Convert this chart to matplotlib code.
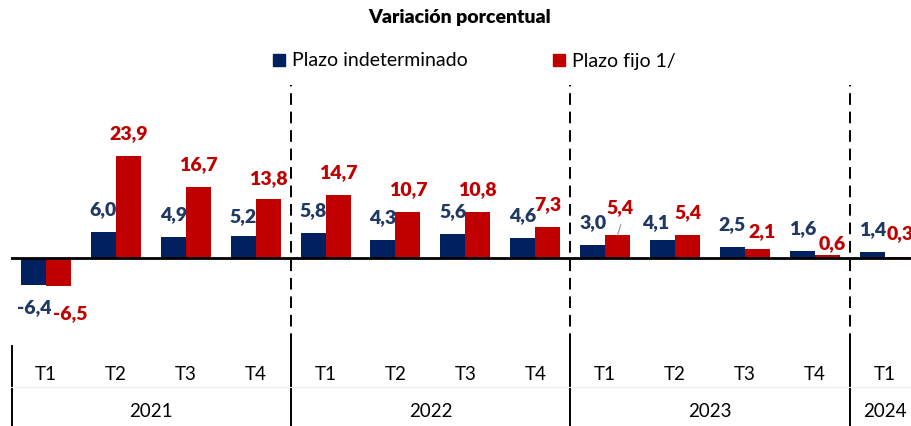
import matplotlib
matplotlib.use("Agg")
import matplotlib.pyplot as plt
from matplotlib.lines import Line2D
import numpy as np

# ---- data ----
quarters = ["T1", "T2", "T3", "T4", "T1", "T2", "T3", "T4", "T1", "T2", "T3", "T4", "T1"]
years = ["2021", "2022", "2023", "2024"]
year_sizes = [4, 4, 4, 1]
indeterminado = [-6.4, 6.0, 4.9, 5.2, 5.8, 4.3, 5.6, 4.6, 3.0, 4.1, 2.5, 1.6, 1.4]
fijo = [-6.5, 23.9, 16.7, 13.8, 14.7, 10.7, 10.8, 7.3, 5.4, 5.4, 2.1, 0.6, 0.3]
series_names = ["Plazo indeterminado", "Plazo fijo 1/"]

# ---- style ----
BLUE = "#002060"
RED = "#C00000"
BLUE_TXT = "#203864"
FONT = "Lato"
plt.rcParams["font.family"] = [FONT, "DejaVu Sans"]

W, H = 912, 426
fig = plt.figure(figsize=(W / 100, H / 100), dpi=100)

ax_left, ax_top, ax_bot = 11, 85, 345
ax = fig.add_axes([ax_left / W, (H - ax_bot) / H, (W - ax_left) / W, (ax_bot - ax_top) / H])
axc = fig.add_axes([ax_left / W, 0, (W - ax_left) / W, (H - ax_bot) / H], sharex=ax)

n = len(quarters)
x = np.arange(n)
bw = 0.357
ax.bar(x - bw / 2, indeterminado, bw, color=BLUE, zorder=2)
ax.bar(x + bw / 2, fijo, bw, color=RED, zorder=2)

group_px = 69.9
ax.set_xlim(-0.5, -0.5 + (W - ax_left) / group_px)
ppu = 4.27  # pixels per unit
zero_px = 258
ax.set_ylim(-(ax_bot - zero_px) / ppu, (zero_px - ax_top) / ppu)
ax.axis("off")
axc.axis("off")
axc.set_ylim(0, 1)

ax.axhline(0, color="black", lw=2.0, zorder=3)

bounds = np.cumsum(year_sizes)[:-1] - 0.5
for b in bounds:
    ax.axvline(b, color="black", lw=1.4, ls=(0, (6, 3.5)), zorder=1)

off_px = 22.5
nudges = {  # (series, index): (dx_px, dy_px) adjustments
    (0, 0): (1, -4.5),
    (1, 0): (11.5, 0.5),
    (0, 3): (0, -3.5),
    (1, 3): (0, -2),
    (0, 9): (-6.5, -5),
    (1, 8): (2.5, 4.5),
    (1, 10): (4.5, -5.5),
    (1, 11): (4.5, -10.5),
    (1, 12): (2.5, 1),
}
for s, (vals, col) in enumerate([(indeterminado, BLUE_TXT), (fijo, RED)]):
    for i, v in enumerate(vals):
        dx, dy = nudges.get((s, i), (0, 0))
        xpos = i + (s - 0.5) * bw
        sign = 1 if v >= 0 else -1
        oy = sign * (off_px + dy if sign > 0 else off_px + 4.5 + dy)
        ax.annotate(f"{v:.1f}".replace(".", ","), (xpos, v), xytext=(dx * 0.72, oy * 0.72),
                    textcoords="offset points", ha="center", va="center",
                    fontsize=14, fontweight="heavy", color=col, zorder=4)

ax.annotate("", xy=(8 + bw / 2, fijo[8]), xytext=(8 + bw / 2 + 0.045, fijo[8] + 2.4),
            arrowprops=dict(arrowstyle="-", color="#A6A6A6", lw=1.0, shrinkA=0, shrinkB=0))

for i, q in enumerate(quarters):
    axc.text(i, 0.64, q, ha="center", va="center", fontsize=13.5, color="black")
start = 0
for y, sz in zip(years, year_sizes):
    axc.text(start + (sz - 1) / 2, 0.185, y, ha="center", va="center", fontsize=13.5, color="black")
    start += sz
for b in [-0.485] + list(bounds):
    axc.axvline(b, ymin=0, ymax=1, color="black", lw=1.4)
axc.axhline(0.48, color="#EDEDED", lw=0.8)

fig.text(460 / W, 1 - 18 / H, "Variación porcentual", ha="center", va="center",
         fontsize=14, fontweight="heavy")
handles = [Line2D([], [], marker="s", ls="", color=BLUE, markersize=8),
           Line2D([], [], marker="s", ls="", color=RED, markersize=8)]
fig.legend(handles, series_names, loc="center", bbox_to_anchor=(474 / W, 1 - 61 / H),
           ncol=2, frameon=False, fontsize=14, handlelength=0.7, handletextpad=0.35,
           columnspacing=4.3, borderpad=0)

fig.savefig("out.png", dpi=100)
